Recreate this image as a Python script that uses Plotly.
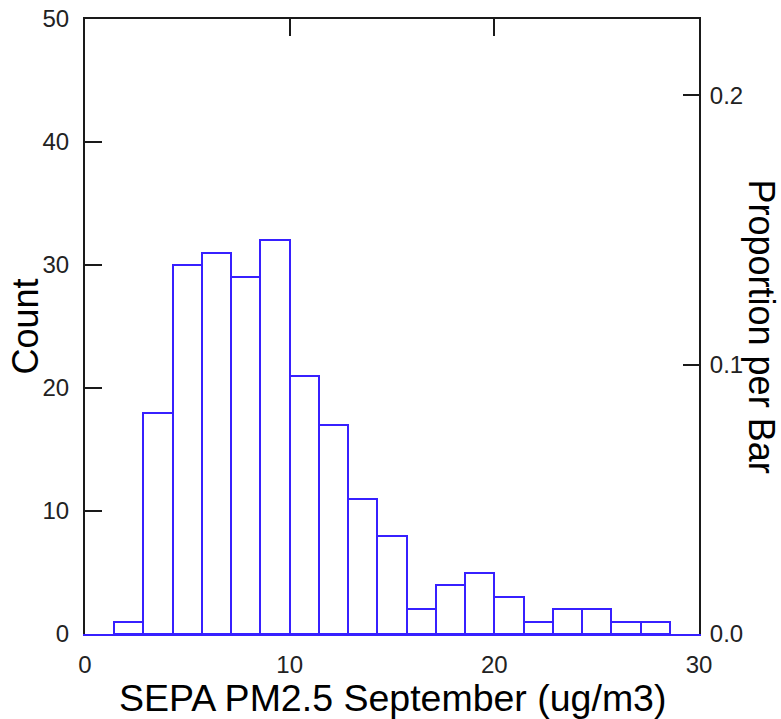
import plotly.graph_objects as go

# ---- data ----
counts = [1, 18, 30, 31, 29, 32, 21, 17, 11, 8, 2, 4, 5, 3, 1, 2, 2, 1, 1]
bin_start = 1.42
bin_width = 1.4295
total = sum(counts)

x_title = "SEPA PM2.5 September (ug/m3)"
y_title = "Count"
y2_title = "Proportion per Bar"
y_ticks = [0, 10, 20, 30, 40, 50]
x_ticks = [0, 10, 20, 30]
p_ticks = [0.0, 0.1, 0.2]
p_labels = ["0.0", "0.1", "0.2"]

centers = [bin_start + bin_width * (i + 0.5) for i in range(len(counts))]

BLUE = "#3720FF"
DARK = "#1a1a1a"
TICKFONT = dict(family="Liberation Sans, Arial", size=24, color="#222222")
TITLEFONT = dict(family="Liberation Sans, Arial", size=36, color="black")
XTITLEFONT = dict(family="Liberation Sans, Arial", size=37.5, color="black")

fig = go.Figure()
fig.add_trace(go.Bar(
    x=centers, y=counts, width=[bin_width] * len(counts),
    marker=dict(color="white", line=dict(color=BLUE, width=2)),
    showlegend=False, hoverinfo="skip",
))
# dummy traces to register overlay axes
for xa, ya in [("x2", "y2"), ("x2", "y3"), ("x2", "y4")]:
    fig.add_trace(go.Scatter(x=[], y=[], xaxis=xa, yaxis=ya, showlegend=False, hoverinfo="skip"))

fig.update_layout(
    width=781, height=719,
    margin=dict(l=85, r=82, t=19, b=85, autoexpand=False),
    paper_bgcolor="white", plot_bgcolor="white",
    bargap=0,
    xaxis=dict(range=[0, 30], tickvals=x_ticks, ticks="", showgrid=False, zeroline=False,
               showline=True, linecolor=BLUE, linewidth=2, tickfont=TICKFONT,
               ticklabelstandoff=8, fixedrange=True),
    xaxis2=dict(range=[0, 30], overlaying="x", side="top", anchor="y", tickvals=[10, 20],
                ticks="inside", ticklen=17, tickwidth=2, tickcolor=DARK, showticklabels=False,
                showgrid=False, zeroline=False, showline=True, linecolor=DARK, linewidth=2),
    yaxis=dict(range=[0, 50], tickvals=y_ticks, ticks="", showgrid=False, zeroline=False,
               showline=True, linecolor=DARK, linewidth=2, tickfont=TICKFONT,
               ticklabelstandoff=9),
    yaxis3=dict(range=[0, 50], overlaying="y", side="left", anchor="x", tickvals=[10, 20, 30, 40],
                ticks="inside", ticklen=17, tickwidth=2, tickcolor=DARK, showticklabels=False,
                showgrid=False, zeroline=False, showline=False),
    yaxis2=dict(range=[0, 50 / total], overlaying="y", side="right", anchor="x",
                tickvals=p_ticks, ticktext=p_labels, ticks="", showgrid=False, zeroline=False,
                showline=True, linecolor=DARK, linewidth=2, tickfont=TICKFONT,
                ticklabelstandoff=4),
    yaxis4=dict(range=[0, 50 / total], overlaying="y", side="right", anchor="x",
                tickvals=[0.1, 0.2], ticks="inside", ticklen=16, tickwidth=2, tickcolor=DARK,
                showticklabels=False, showgrid=False, zeroline=False, showline=False),
    annotations=[
        dict(text=x_title, xref="paper", yref="paper", x=0.5, y=0, yshift=-64,
             xanchor="center", yanchor="middle", showarrow=False, font=XTITLEFONT),
        dict(text=y_title, xref="paper", yref="paper", x=0, y=0.5, xshift=-60,
             xanchor="center", yanchor="middle", textangle=-90, showarrow=False, font=TITLEFONT),
        dict(text=y2_title, xref="paper", yref="paper", x=1, y=0.5, xshift=62,
             xanchor="center", yanchor="middle", textangle=90, showarrow=False, font=TITLEFONT),
    ],
)

fig.write_html("out.html", config={"responsive": False, "displayModeBar": False},
               post_script="document.body.style.margin='0';document.body.style.overflow='hidden';")
